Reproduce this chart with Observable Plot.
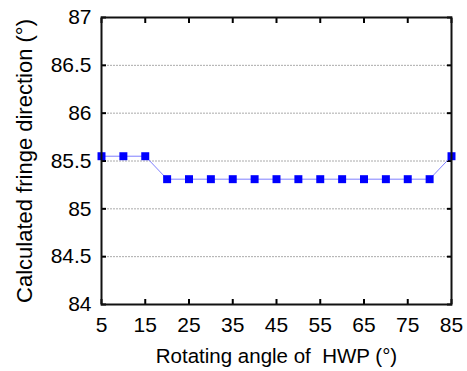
<!DOCTYPE html>
<html><head><meta charset="utf-8">
<script src="https://cdn.jsdelivr.net/npm/d3@7"></script>
<script src="https://cdn.jsdelivr.net/npm/@observablehq/plot@0.6"></script>
<style>body{margin:0;background:#fff;font-family:"Liberation Sans",Arial,sans-serif}</style>
</head><body><div id="chart"></div>
<script>
const angles = [5,10,15,20,25,30,35,40,45,50,55,60,65,70,75,80,85];
const directions = [85.55,85.55,85.55,85.31,85.31,85.31,85.31,85.31,85.31,85.31,85.31,85.31,85.31,85.31,85.31,85.31,85.55];
const xTicks = [5,15,25,35,45,55,65,75,85];
const yTicks = [84,84.5,85,85.5,86,86.5,87];
const gridY = [84.5,85,85.5,86,86.5];
const xLabel = "Rotating angle of  HWP (°)";
const yLabel = "Calculated fringe direction (°)";

const data = angles.map((a,i)=>({a, d: directions[i]}));

const chart = Plot.plot({
  width: 467, height: 371,
  marginLeft: 101, marginTop: 17, marginRight: 16, marginBottom: 67,
  style: {fontFamily: '"Liberation Sans", Arial, sans-serif', fontSize: "21px", color: "#000", background: "#fff"},
  x: {domain: [5,85]},
  y: {domain: [84,87]},
  marks: [
    Plot.ruleY(gridY, {stroke: "#aaa", strokeDasharray: "2,1", strokeWidth: 1}),
    Plot.axisX(xTicks, {anchor: "bottom", tickSize: -5, tickPadding: 18, label: null, fontSize: 21, strokeWidth: 2, tickFormat: d => String(d)}),
    Plot.axisX(xTicks, {anchor: "top", tickSize: -5, label: null, tickFormat: () => "", strokeWidth: 2}),
    Plot.axisY(yTicks, {anchor: "left", tickSize: -5, tickPadding: 15, label: null, fontSize: 21, strokeWidth: 2, tickFormat: d => String(d)}),
    Plot.axisY(yTicks, {anchor: "right", tickSize: -5, label: null, tickFormat: () => "", strokeWidth: 2}),
    Plot.text([xLabel], {frameAnchor: "bottom", lineAnchor: "middle", textAnchor: "middle", dy: 52, fontSize: 20.5}),
    Plot.text([yLabel], {frameAnchor: "left", lineAnchor: "middle", textAnchor: "middle", dx: -77, rotate: -90, fontSize: 22}),
    Plot.line(data, {x: "a", y: "d", stroke: "#7f7fff", strokeWidth: 1}),
    Plot.dot(data, {x: "a", y: "d", symbol: "square", fill: "#0000ff", stroke: "none", r: 4.5}),
    Plot.frame({stroke: "#111", strokeWidth: 2})
  ]
});
document.getElementById("chart").appendChild(chart);
</script></body></html>
